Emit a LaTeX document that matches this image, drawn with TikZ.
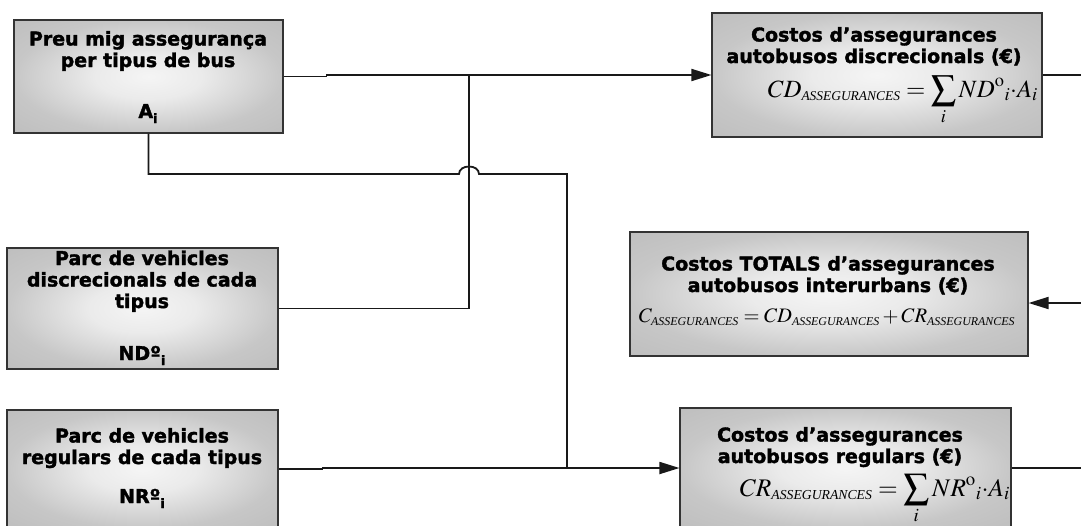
\documentclass[tikz,border=0pt]{standalone}
\usepackage{graphicx}
\usepackage{mathptmx}
\usepackage{fontspec}
\usetikzlibrary{arrows.meta}
\newfontfamily\heavy{DejaVu Sans}[UprightFont={* Bold},BoldFont={* Bold},FakeBold=1.8]
\newfontfamily\tms{Liberation Serif}

% soft grey box fill, light in the middle
\pgfdeclareradialshading{boxshade}{\pgfpoint{0bp}{0bp}}{%
  color(0bp)=(black!4); color(10bp)=(black!8); color(25bp)=(black!22); color(50bp)=(black!30)}

\tikzset{
  blk/.style={rectangle, draw=black!80, line width=1.1pt, shading=boxshade, inner sep=0pt},
  ttl/.style={font=\heavy\fontsize{19}{21.5}\selectfont, align=center, anchor=base, inner sep=0pt},
  var/.style={font=\heavy\fontsize{19}{21}\selectfont, anchor=base, inner sep=0pt},
  eqn/.style={anchor=base, inner sep=0pt},
  wire/.style={line width=1.8pt, draw=black!90},
  arr/.style={wire, -{Triangle[length=20pt,width=12pt]}},
}
\newcommand{\subi}{\raisebox{-5pt}{\fontsize{13}{13}\selectfont i}}
% small italic capitals used as index of the cost symbols
\newcommand{\idx}[1]{\mbox{\tms\itshape\fontsize{#1}{#1}\selectfont ASSEGURANCES}}

\begin{document}
\begin{tikzpicture}[x=1pt,y=-1pt]
\useasboundingbox (0,0) rectangle (1081,525);
\clip (0,0) rectangle (1081,525);

% input boxes
\node[blk, minimum width=269pt, minimum height=113pt] (A)  at (148.5,76.5) {};
\node[blk, minimum width=271pt, minimum height=121pt] (ND) at (142.5,308.5) {};
\node[blk, minimum width=271pt, minimum height=118pt] (NR) at (142.5,469) {};
% cost boxes
\node[blk, minimum width=330pt, minimum height=124pt] (CD) at (877,75) {};
\node[blk, minimum width=398pt, minimum height=124pt] (T)  at (829,294) {};
\node[blk, minimum width=331pt, minimum height=120pt] (CR) at (845.5,468) {};

% texts of the input boxes (anchored at the baseline of the last line)
\node[ttl] (At) at (148,67) {Preu mig assegurança\\per tipus de bus};
\node[var] (Av) at (148,118) {A\subi};
\node[ttl] (NDt) at (142,308) {Parc de vehicles\\discrecionals de cada\\tipus};
\node[var] (NDv) at (142,360) {NDº\subi};
\node[ttl] (NRt) at (142,464) {Parc de vehicles\\regulars de cada tipus};
\node[var] (NRv) at (142,503) {NRº\subi};

% texts of the cost boxes
\node[ttl] (CDt) at (874,63) {Costos d’assegurances\\autobusos discrecionals (€)};
\node[eqn, anchor=base east] (CDe) at (1038,97)
  {\resizebox{270pt}{!}{\fontsize{24}{24}\selectfont$\displaystyle CD_{\idx{13}} = \sum_{i} ND^{\mathrm{o}}{}_{i}{\cdot}A_{i}$}};
\node[ttl] (Tt) at (828,292) {Costos TOTALS d’assegurances\\autobusos interurbans (€)};
\node[eqn] (Te) at (827,322)
  {\resizebox{376pt}{!}{\fontsize{19}{19}\selectfont$C_{\idx{11}} = CD_{\idx{11}} + CR_{\idx{11}}$}};
\node[ttl] (CRt) at (840,463) {Costos d’assegurances\\autobusos regulars (€)};
\node[eqn, anchor=base east] (CRe) at (1010,496)
  {\resizebox{270pt}{!}{\fontsize{24}{24}\selectfont$\displaystyle CR_{\idx{13}} = \sum_{i} NR^{\mathrm{o}}{}_{i}{\cdot}A_{i}$}};

% junction and free ends
\coordinate (j1) at (469,75);
\coordinate (j2) at (567,468);
\coordinate (o1) at (1081,75);
\coordinate (o2) at (1081,303);
\coordinate (o3) at (1081,468);

% connectors
\draw[arr] (A.east) -- ++(43,0) |- (CD.west);
\draw[wire] (ND.east) -| (j1);
\draw[wire] (A.south) |- (459,174) .. controls (459,164) and (479,164) .. (479,174) -| (j2);
\draw[arr] (NR.east) -- ++(44,0) |- (CR.west);
\draw[wire] (CD.east) -- (o1);
\draw[wire] (CR.east) -- (o3);
\draw[arr] (o2) -- (T.east |- o2);
\end{tikzpicture}
\end{document}
